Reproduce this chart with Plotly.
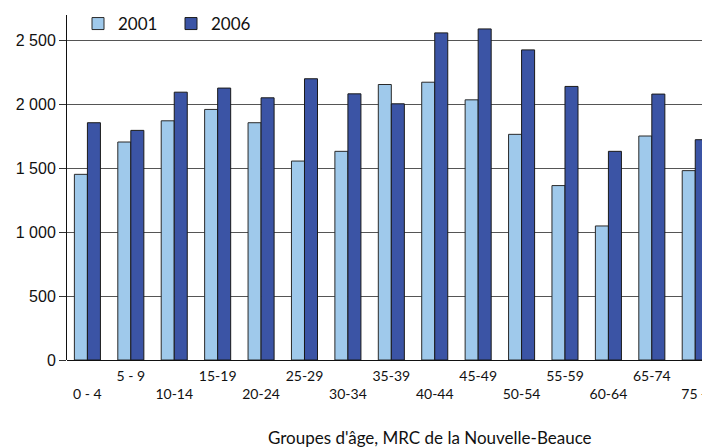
import plotly.graph_objects as go

categories = ["0 - 4", "5 - 9", "10-14", "15-19", "20-24", "25-29", "30-34", "35-39",
              "40-44", "45-49", "50-54", "55-59", "60-64", "65-74", "75 +"]
values_2001 = [1453, 1706, 1872, 1961, 1857, 1557, 1633, 2156, 2174, 2036, 1766, 1365, 1049, 1753, 1482]
values_2006 = [1857, 1797, 2096, 2128, 2052, 2201, 2083, 2005, 2560, 2591, 2427, 2141, 1633, 2081, 1724]
y_ticks = [0, 500, 1000, 1500, 2000, 2500]
y_tick_labels = ["0", "500", "1 000", "1 500", "2 000", "2 500"]

# page body has an 8px margin, so the figure is 8px smaller and shifted
OFF = 8
W, H = 710 - OFF, 447 - OFF
ML, MR, MT, MB = 67 - OFF, 0, 15 - OFF, 87
PW, PH = W - ML - MR, H - MT - MB

# staggered category labels
tick_text = [(c + "<br> ") if i % 2 == 1 else ("<br>" + c) for i, c in enumerate(categories)]

fig = go.Figure()
fig.add_trace(go.Bar(x=categories, y=values_2001, name="2001",
                     marker=dict(color="#9FC9EB", line=dict(color="#2a2a2a", width=1))))
fig.add_trace(go.Bar(x=categories, y=values_2006, name="2006",
                     marker=dict(color="#3B54A5", line=dict(color="#1a1a1a", width=1))))

fig.update_layout(
    width=W, height=H,
    margin=dict(l=ML, r=MR, t=MT, b=MB, autoexpand=False),
    paper_bgcolor="white", plot_bgcolor="white",
    barmode="group", bargap=0.40, bargroupgap=0,
    font=dict(family="Liberation Sans, Arial, sans-serif", color="#111"),
    legend=dict(orientation="h", x=(70 - ML) / PW, y=1 - 9 / PH, xanchor="left", yanchor="middle",
                font=dict(size=17, family="Lato, sans-serif", color="#111"),
                bgcolor="rgba(0,0,0,0)", itemwidth=30, traceorder="normal",
                entrywidth=48, entrywidthmode="pixels"),
    showlegend=True,
)
fig.update_xaxes(
    type="category", categoryorder="array", categoryarray=categories,
    range=[-0.47, 14.34],
    tickmode="array", tickvals=categories, ticktext=tick_text,
    tickfont=dict(size=14, family="Lato, sans-serif", color="#111"),
    ticklabelstandoff=6,
    showline=False, showgrid=False, ticks="", zeroline=False,
)
fig.update_yaxes(
    range=[0, 2700],
    tickmode="array", tickvals=y_ticks, ticktext=y_tick_labels,
    tickfont=dict(size=16, family="Liberation Sans, Arial, sans-serif", color="#111"),
    showgrid=True, gridcolor="#555555", gridwidth=1.3,
    showline=True, linecolor="#111", linewidth=1,
    ticks="outside", ticklen=7, tickcolor="#333",
    zeroline=True, zerolinecolor="#111", zerolinewidth=1.3,
)
fig.add_annotation(text="Groupes d'âge, MRC de la Nouvelle-Beauce",
                   xref="paper", yref="paper",
                   x=(430 - OFF - ML) / PW, y=-(437 - (447 - MB)) / PH,
                   xanchor="center", yanchor="middle", showarrow=False,
                   font=dict(size=17, family="Lato, sans-serif", color="#111"))

fig.write_html("out.html")
